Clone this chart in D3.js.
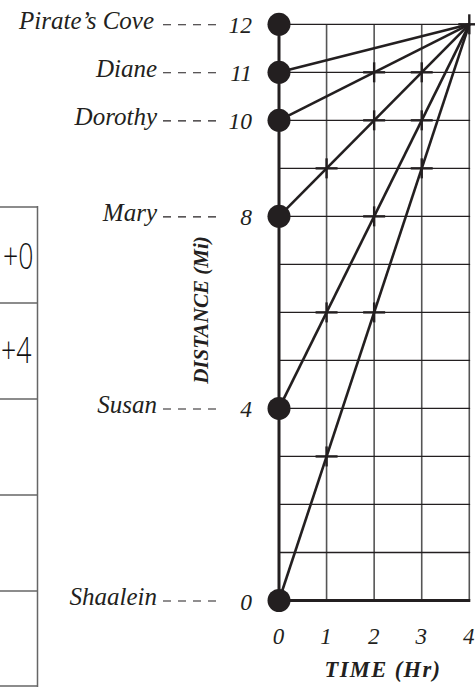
<!DOCTYPE html>
<html>
<head>
<meta charset="utf-8">
<script src="https://cdn.jsdelivr.net/npm/d3@7"></script>
<style>
  html, body { margin: 0; padding: 0; background: #fff; }
  svg { display: block; }
</style>
</head>
<body>
<svg id="chart" width="475" height="687"></svg>
<script>
// ---- data ----
const placeNames  = ["Pirate’s Cove", "Diane", "Dorothy", "Mary", "Susan", "Shaalein"];
const placeMiles  = [12, 11, 10, 8, 4, 0];
const runnerNames = ["Diane", "Dorothy", "Mary", "Susan", "Shaalein"];
const runnerStart = [11, 10, 8, 4, 0];
const finishTime  = 4;
const finishMiles = 12;
const crossTimes  = [2, 3, 2, 3, 1, 3, 2, 1, 2, 1, 4];
const crossMiles  = [11, 11, 10, 10, 9, 9, 8, 6, 6, 3, 12];
const timeTicks   = [0, 1, 2, 3, 4];
const mileGrid    = [0, 1, 2, 3, 4, 5, 6, 7, 8, 9, 10, 11, 12];
const tableNotes  = ["+0", "+4", "", "", ""];

// ---- drawing ----
const svg = d3.select("#chart");
const ink = "#231f20";
const x = d3.scaleLinear().domain([0, 4]).range([279, 469.3]);
const y = d3.scaleLinear().domain([0, 12]).range([600.5, 24.3]);

// partial table on the left
const tableRows = d3.scaleLinear().domain([0, 5]).range([207, 687]);
const tg = svg.append("g");
const hand = "'Open Sans', 'DejaVu Sans', sans-serif";
tableNotes.forEach((t, i) => {
  tg.append("line").attr("x1", 0).attr("x2", 37.5)
    .attr("y1", tableRows(i)).attr("y2", tableRows(i))
    .attr("stroke", "#666").attr("stroke-width", 1.5);
  const mid = (tableRows(i) + tableRows(i + 1)) / 2;
  if (t) {
    tg.append("text")
      .attr("transform", `translate(${i === 0 ? 3 : 1},${mid + (i === 0 ? 14 : 12)}) scale(0.74,1)`)
      .attr("font-family", hand).attr("font-weight", 300)
      .attr("font-size", 36).attr("fill", "#111")
      .text(t);
  }
});
tg.append("line").attr("x1", 0).attr("x2", 37.5)
  .attr("y1", 686).attr("y2", 686).attr("stroke", "#666").attr("stroke-width", 1.5);
tg.append("line").attr("x1", 37.5).attr("x2", 37.5)
  .attr("y1", 206).attr("y2", 687).attr("stroke", "#666").attr("stroke-width", 1.5);

// grid
const grid = svg.append("g");
grid.selectAll("line.v").data(timeTicks.slice(1)).join("line")
  .attr("x1", d => x(d)).attr("x2", d => x(d))
  .attr("y1", y(12)).attr("y2", y(0))
  .attr("stroke", "#555").attr("stroke-width", 1.6);
grid.selectAll("line.h").data(mileGrid.slice(1)).join("line")
  .attr("x1", x(0)).attr("x2", x(4) + 0.8)
  .attr("y1", d => y(d)).attr("y2", d => y(d))
  .attr("stroke", ink).attr("stroke-width", 1.3);

// axes
svg.append("line").attr("x1", x(0)).attr("x2", x(0)).attr("y1", y(12)).attr("y2", y(0))
  .attr("stroke", ink).attr("stroke-width", 3);
svg.append("line").attr("x1", x(0)).attr("x2", x(4) + 1).attr("y1", y(0)).attr("y2", y(0))
  .attr("stroke", ink).attr("stroke-width", 3);

// runner lines
svg.selectAll("line.run").data(runnerStart).join("line")
  .attr("x1", x(0)).attr("y1", d => y(d))
  .attr("x2", x(finishTime)).attr("y2", y(finishMiles))
  .attr("stroke", ink).attr("stroke-width", 2.6);

// crosses
const cg = svg.append("g").attr("stroke", ink).attr("stroke-width", 2.4);
crossTimes.forEach((t, i) => {
  cg.append("line").attr("x1", x(t) - 11).attr("x2", x(t) + 11)
    .attr("y1", y(crossMiles[i])).attr("y2", y(crossMiles[i]));
  cg.append("line").attr("x1", x(t)).attr("x2", x(t))
    .attr("y1", y(crossMiles[i]) - 10).attr("y2", y(crossMiles[i]) + 10);
});

// dots
svg.selectAll("circle").data(placeMiles).join("circle")
  .attr("cx", x(0)).attr("cy", d => y(d)).attr("r", 11.5).attr("fill", ink);

// place labels, dashes, numbers
const serif = "'Liberation Serif', 'Times New Roman', serif";
const lg = svg.append("g").attr("fill", ink).attr("font-family", serif).attr("font-style", "italic");
placeNames.forEach((n, i) => {
  const yy = y(placeMiles[i]);
  lg.append("text").attr("x", i === 0 ? 154 : 157).attr("y", yy + 4.5).attr("text-anchor", "end")
    .attr("font-size", 25).text(n);
  lg.append("line").attr("x1", 163).attr("x2", 218).attr("y1", yy + 0.5).attr("y2", yy + 0.5)
    .attr("stroke", ink).attr("stroke-width", 1.1).attr("stroke-dasharray", "8,7");
  lg.append("text").attr("x", 252).attr("y", yy + 9).attr("text-anchor", "end")
    .attr("font-size", 23.5).text(placeMiles[i]);
});

// x tick labels via d3 axis
const xAxis = svg.append("g").attr("transform", `translate(0,${y(0)})`)
  .call(d3.axisBottom(x).tickValues(timeTicks).tickSize(0).tickPadding(27).tickFormat(d3.format("d")));
xAxis.select(".domain").remove();
xAxis.selectAll("text").attr("font-family", serif).attr("font-style", "italic")
  .attr("font-size", 23).attr("fill", ink).attr("dx", -1);

// axis titles
svg.append("text").attr("x", 383).attr("y", 677).attr("text-anchor", "middle")
  .attr("font-family", serif).attr("font-style", "italic").attr("font-weight", "bold")
  .attr("font-size", 22.5).attr("letter-spacing", 1.4).attr("fill", ink).text("TIME (Hr)");
svg.append("text").attr("transform", "translate(208,310) rotate(-90)").attr("text-anchor", "middle")
  .attr("font-family", serif).attr("font-style", "italic").attr("font-weight", "bold")
  .attr("font-size", 21).attr("fill", ink).text("DISTANCE (Mi)");
</script>
</body>
</html>
